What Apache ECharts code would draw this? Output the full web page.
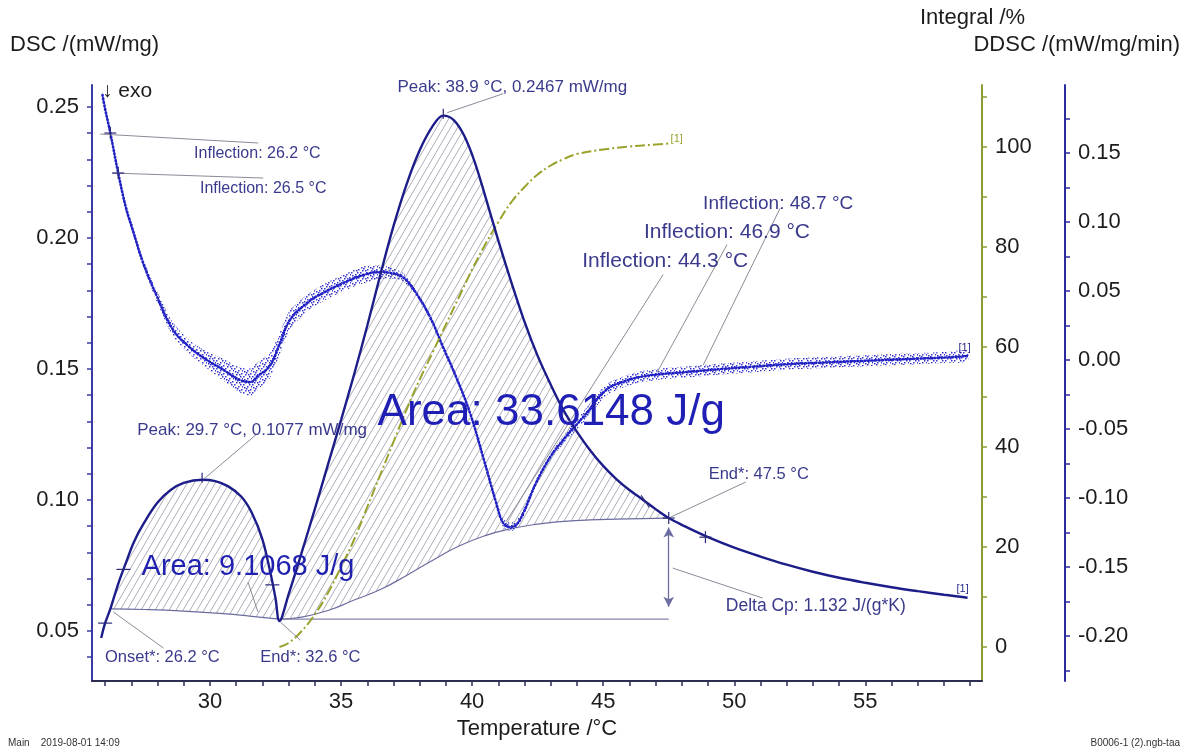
<!DOCTYPE html>
<html>
<head>
<meta charset="utf-8">
<script src="https://cdn.jsdelivr.net/npm/echarts@6/dist/echarts.min.js"></script>
<style>
  html, body { margin: 0; padding: 0; background: #fff; }
  #chart { width: 1191px; height: 751px; }
</style>
</head>
<body>
<div id="chart"></div>
<script>
// ---- DSC signal (mW/mg) against temperature (°C) ----
const dscTemp = [25.85, 26.0, 26.2, 26.5, 26.8, 27.1, 27.5, 28.0, 28.5, 29.0, 29.7, 30.2, 30.7, 31.2, 31.6, 32.0, 32.3, 32.5, 32.65,
  33.0, 33.5, 34.0, 34.5, 35.0, 35.5, 36.0, 36.5, 37.0, 37.5, 38.0, 38.5, 38.9, 39.3, 39.7, 40.1, 40.5, 41.0, 41.5, 42.0, 42.5,
  43.0, 43.5, 44.0, 44.5, 45.0, 45.5, 46.0, 46.5, 47.0, 47.5, 48.0, 49.0, 50.0, 51.0, 52.0, 53.0, 54.0, 55.0, 56.0, 57.0, 58.0, 58.9];
const dscValue = [0.0473, 0.0530, 0.0584, 0.0680, 0.0762, 0.0840, 0.0915, 0.0990, 0.1038, 0.1065, 0.1077, 0.1072, 0.1052, 0.1012, 0.0950, 0.0850, 0.0725, 0.0625, 0.0538,
  0.0640, 0.0800, 0.0965, 0.1135, 0.1305, 0.1480, 0.1665, 0.1860, 0.2045, 0.2205, 0.2335, 0.2428, 0.2467, 0.2450, 0.2390, 0.2290, 0.2160, 0.1990, 0.1830, 0.1680, 0.1550,
  0.1440, 0.1340, 0.1260, 0.1190, 0.1130, 0.1080, 0.1038, 0.1002, 0.0965, 0.0931, 0.0905, 0.0858, 0.0818, 0.0784, 0.0753, 0.0726, 0.0703, 0.0684, 0.0667, 0.0652, 0.0638, 0.0627];

// ---- Integration baselines ----
const base1Temp = [26.2, 27.5, 29.0, 30.5, 31.5, 32.65];
const base1Value = [0.0584, 0.0582, 0.0576, 0.0566, 0.0557, 0.0545];
const base2Temp = [32.65, 33.5, 34.5, 35.5, 36.5, 37.5, 38.5, 39.5, 40.5, 41.5, 42.5, 43.5, 44.5, 45.5, 46.5, 47.5];
const base2Value = [0.0545, 0.0553, 0.0578, 0.0618, 0.0658, 0.0712, 0.0770, 0.0824, 0.0864, 0.0891, 0.0908, 0.0918, 0.0924, 0.0927, 0.0929, 0.0931];
const stepLevel = 0.0545;          // extrapolated level used for Delta Cp
const stepTemp = [32.65, 47.5];

// ---- Partial integral (%) of the second peak ----
const integralTemp = [32.65, 33.0, 33.5, 34.0, 34.5, 35.0, 35.5, 36.0, 36.5, 37.0, 37.5, 38.0, 38.5, 39.0, 39.5, 40.0, 40.5, 41.0,
  41.5, 42.0, 42.5, 43.0, 43.5, 44.0, 45.0, 46.0, 47.0, 47.5];
const integralValue = [0, 0.8, 3.2, 6.5, 10.8, 16.0, 21.5, 28.0, 34.5, 41.0, 47.5, 53.5, 59.0, 64.5, 70.0, 75.5, 80.5, 85.0,
  89.0, 92.0, 94.5, 96.3, 97.6, 98.6, 99.5, 100.1, 100.5, 100.7];

// ---- DDSC (mW/mg/min): mean trace and half-width of its scatter ----
const ddscTemp = [25.9, 26.0, 26.2, 26.5, 26.8, 27.06, 27.44, 27.98, 28.59, 29.24, 29.89, 30.5, 31.15, 31.55, 31.8, 32.29, 32.67,
  33.05, 33.7, 34.31, 35.08, 35.84, 36.49, 36.9, 37.37, 37.86, 38.4, 38.89, 39.39, 39.92, 40.42, 40.92, 41.18, 41.45, 41.7,
  41.95, 42.44, 42.98, 43.47, 44.3, 45.11, 45.8, 46.41, 47.3, 48.17, 49.5, 50.6, 52.0, 53.2, 55.7, 57.0, 58.2, 58.9];
const ddscValue = [0.192, 0.182, 0.1645, 0.1355, 0.110, 0.094, 0.071, 0.046, 0.022, 0.009, 0.000, -0.007, -0.0145, -0.016, -0.012, -0.004, 0.0123,
  0.029, 0.0413, 0.0486, 0.0558, 0.0616, 0.0638, 0.0630, 0.060, 0.0486, 0.031, 0.0094, -0.0123, -0.0384, -0.0703, -0.1036, -0.118, -0.121, -0.119,
  -0.111, -0.089, -0.0703, -0.058, -0.040, -0.0217, -0.0155, -0.0123, -0.0100, -0.0087, -0.0065, -0.005, -0.003, -0.002, 0.000, 0.001, 0.002, 0.003];
const ddscSpread = [0.002, 0.002, 0.002, 0.002, 0.003, 0.003, 0.003, 0.004, 0.005, 0.005, 0.006, 0.008, 0.009, 0.010, 0.010, 0.009, 0.008,
  0.007, 0.006, 0.006, 0.006, 0.006, 0.005, 0.004, 0.003, 0.002, 0.002, 0.002, 0.002, 0.002, 0.002, 0.002, 0.003, 0.003, 0.003,
  0.003, 0.002, 0.002, 0.003, 0.004, 0.004, 0.004, 0.004, 0.004, 0.004, 0.004, 0.004, 0.004, 0.004, 0.004, 0.004, 0.004, 0.004];

// ---- Tick labels ----
const tempLabels = [30, 35, 40, 45, 50, 55];
const dscLabels = [0.05, 0.10, 0.15, 0.20, 0.25];
const integralLabels = [0, 20, 40, 60, 80, 100];
const ddscLabels = [-0.20, -0.15, -0.10, -0.05, 0.00, 0.05, 0.10, 0.15];

// minor tick positions
const range = (a, b, s) => { const r = []; for (let v = a; v <= b + s / 1e6; v += s) r.push(+v.toFixed(4)); return r; };
const tempTicks = range(26, 59, 1);
const dscTicks = range(0.04, 0.25, 0.01);
const integralTicks = range(0, 110, 10);
const ddscTicks = range(-0.225, 0.175, 0.025);

const zip = (xs, ys) => xs.map((x, i) => [x, ys[i]]);
const FONT = '"Liberation Sans", Arial, Helvetica, sans-serif';
const INK = '#3a3a8c';
const LEADER = '#8b8b98';

// diagonal hatch tile
function hatchTile() {
  const w = 7, h = 12;
  const c = document.createElement('canvas');
  c.width = w; c.height = h;
  const g = c.getContext('2d');
  g.strokeStyle = 'rgba(120,120,140,0.72)';
  g.lineWidth = 0.85;
  g.beginPath();
  for (const ox of [-w, 0, w]) { g.moveTo(ox, h); g.lineTo(ox + w, 0); }
  g.stroke();
  return c;
}
// stipple tile for the DDSC scatter band
function stippleTile() {
  const c = document.createElement('canvas');
  c.width = 9; c.height = 8;
  const g = c.getContext('2d');
  g.fillStyle = 'rgba(30,30,200,0.9)';
  [[0, 0], [4, 2], [7, 5], [2, 6], [6, 0], [1, 3], [5, 6], [8, 2], [3, 4]].forEach(([x, y]) => g.fillRect(x, y, 1.5, 1.5));
  return c;
}
const hatch = { image: hatchTile(), repeat: 'repeat' };
const stipple = { image: stippleTile(), repeat: 'repeat' };

// closed outlines between the DSC curve and each baseline
function region(t0, t1, bt, bv) {
  const top = zip(dscTemp, dscValue).filter(p => p[0] >= t0 - 1e-9 && p[0] <= t1 + 1e-9);
  const bottom = zip(bt, bv).reverse();
  return top.concat(bottom);
}
const hatchRegions = [region(26.2, 32.65, base1Temp, base1Value), region(32.65, 47.5, base2Temp, base2Value)];
const ddscBand = ddscTemp.map((t, i) => [t, ddscValue[i] + ddscSpread[i]])
  .concat(ddscTemp.map((t, i) => [t, ddscValue[i] - ddscSpread[i]]).reverse());

const axisText = { fontSize: 22, color: '#1c1c1c', fontFamily: FONT };

const chart = echarts.init(document.getElementById('chart'), null, { renderer: 'canvas' });

const option = {
  backgroundColor: '#ffffff',
  animation: false,
  grid: { left: 92, right: 209, top: 85, bottom: 70, containLabel: false, outerBoundsMode: 'none' },
  xAxis: {
    type: 'value', min: 25.5, max: 59.45,
    axisLine: { onZero: false, lineStyle: { color: '#2d2d52', width: 2 } },
    axisTick: { customValues: tempTicks, length: 5, lineStyle: { color: '#2d2d52', width: 1.5 } },
    axisLabel: Object.assign({ customValues: tempLabels, margin: 10, formatter: v => String(v) }, axisText),
    splitLine: { show: false },
    name: 'Temperature /°C', nameLocation: 'middle', nameGap: 31,
    nameTextStyle: { fontSize: 22, color: '#1c1c1c', fontFamily: FONT }
  },
  yAxis: [
    {
      type: 'value', position: 'left', min: 0.0309, max: 0.2584,
      axisLine: { show: true, onZero: false, lineStyle: { color: '#3b3ba6', width: 2 } },
      axisTick: { show: true, customValues: dscTicks, length: 5, lineStyle: { color: '#3b3ba6', width: 1.5 } },
      axisLabel: Object.assign({ customValues: dscLabels, margin: 13, formatter: v => v.toFixed(2) }, axisText),
      splitLine: { show: false }
    },
    {
      type: 'value', position: 'right', offset: 0, min: -6.8, max: 112.4,
      axisLine: { show: true, onZero: false, lineStyle: { color: '#8e9b34', width: 2 } },
      axisTick: { show: true, customValues: integralTicks, length: 5, lineStyle: { color: '#8e9b34', width: 1.5 } },
      axisLabel: Object.assign({ customValues: integralLabels, margin: 13, formatter: v => String(v) }, axisText),
      splitLine: { show: false }
    },
    {
      type: 'value', position: 'right', offset: 83, min: -0.2326, max: 0.1993,
      axisLine: { show: true, onZero: false, lineStyle: { color: '#2b2b9c', width: 2 } },
      axisTick: { show: true, customValues: ddscTicks, length: 5, lineStyle: { color: '#2b2b9c', width: 1.5 } },
      axisLabel: Object.assign({ customValues: ddscLabels, margin: 13, formatter: v => v.toFixed(2) }, axisText),
      splitLine: { show: false }
    }
  ],
  series: [
    {
      // hatched peak areas
      type: 'custom', xAxisIndex: 0, yAxisIndex: 0, silent: true, z: 1,
      data: [[30, 0.08], [40, 0.12]],
      renderItem(params, api) {
        const pts = hatchRegions[params.dataIndex].map(p => api.coord(p));
        return { type: 'polygon', shape: { points: pts }, style: { fill: hatch, stroke: null } };
      }
    },
    {
      // scatter band of the DDSC signal
      type: 'custom', xAxisIndex: 0, yAxisIndex: 2, silent: true, z: 3,
      data: [[40, 0]],
      renderItem(params, api) {
        const pts = ddscBand.map(p => api.coord(p));
        return { type: 'polygon', shape: { points: pts, smooth: 0.2 }, style: { fill: stipple, stroke: null } };
      }
    },
    {
      name: 'baseline 1', type: 'line', yAxisIndex: 0, data: zip(base1Temp, base1Value), smooth: true,
      showSymbol: false, silent: true, z: 2, lineStyle: { color: '#6c6ca0', width: 1.2 }
    },
    {
      name: 'baseline 2', type: 'line', yAxisIndex: 0, data: zip(base2Temp, base2Value), smooth: true,
      showSymbol: false, silent: true, z: 2, lineStyle: { color: '#6c6ca0', width: 1.2 }
    },
    {
      name: 'step level', type: 'line', yAxisIndex: 0, data: stepTemp.map(t => [t, stepLevel]),
      showSymbol: false, silent: true, z: 2, lineStyle: { color: '#8585ad', width: 1.2 },
      markLine: {
        silent: true, symbol: ['arrow', 'arrow'], symbolSize: [8, 10],
        lineStyle: { color: '#6c6ca0', width: 1.3, type: 'solid' }, label: { show: false },
        data: [[{ coord: [47.5, 0.0895] }, { coord: [47.5, 0.0592] }]]
      }
    },
    {
      name: 'DDSC', type: 'line', yAxisIndex: 2, data: zip(ddscTemp, ddscValue), smooth: 0.4,
      showSymbol: false, silent: true, z: 3,
      lineStyle: { color: '#2222c4', width: 2.6, type: [1, 2.5], cap: 'round' }
    },
    {
      name: 'Integral', type: 'line', yAxisIndex: 1, data: zip(integralTemp, integralValue), smooth: 0.4,
      showSymbol: false, silent: true, z: 4,
      lineStyle: { color: '#9aa22b', width: 2, type: [10, 3, 2, 3] }
    },
    {
      name: 'DSC', type: 'line', yAxisIndex: 0, data: zip(dscTemp, dscValue), smooth: 0.35,
      showSymbol: false, silent: true, z: 5,
      lineStyle: { color: '#1d1d8a', width: 2.4 }
    }
  ]
};
chart.setOption(option);

// ---- annotations placed from data points ----
const px = (t, v, axis) => chart.convertToPixel({ xAxisIndex: 0, yAxisIndex: axis }, [t, v]);

// at: [T, value, yAxisIndex]; from/to: leader offsets; pos: label centre offset
const notes = [
  { at: [26.2, 0.1645, 2], from: [-10, 1], to: [148, 10], label: 'Inflection: 26.2 °C', pos: [147, 21], size: 16, mark: 'cross' },
  { at: [26.5, 0.1355, 2], from: [-6, 0], to: [145, 5], label: 'Inflection: 26.5 °C', pos: [145, 16], size: 16, mark: 'cross' },
  { at: [38.9, 0.2467, 0], from: [4, -3], to: [60, -22], label: 'Peak: 38.9 °C, 0.2467 mW/mg', pos: [69, -28], size: 17, mark: 'vtick' },
  { at: [29.7, 0.1077, 0], from: [2, -1], to: [55, -46], label: 'Peak: 29.7 °C, 0.1077 mW/mg', pos: [50, -49], size: 17, mark: 'vtick' },
  { at: [26.2, 0.0584, 0], from: [3, 3], to: [53, 39], label: 'Onset*: 26.2 °C', pos: [52, 48], size: 16.5 },
  { at: [32.65, 0.0545, 0], from: [1, 3], to: [21, 21], label: 'End*: 32.6 °C', pos: [31, 38], size: 16.5 },
  { at: [47.5, 0.0931, 0], from: [0, 0], to: [77, -36], label: 'End*: 47.5 °C', pos: [90, -44], size: 16.5, mark: 'cross' },
  { at: [47.5, 0.0740, 0], from: [4, 0], to: [94, 30], label: 'Delta Cp: 1.132 J/(g*K)', pos: [147, 38], size: 17.5 },
  { at: [48.7, -0.008, 2], from: [3, -6], to: [80, -163], label: 'Inflection: 48.7 °C', pos: [78, -167], size: 19 },
  { at: [46.9, -0.012, 2], from: [4, -4], to: [74, -132], label: 'Inflection: 46.9 °C', pos: [74, -144], size: 21 },
  { at: [41.3, -0.117, 2], from: [0, 0], to: [157, -247], label: 'Inflection: 44.3 °C', pos: [159, -260], size: 21 },
  { at: [31.45, 0.0744, 0], from: [0, 15], to: [10, 45], label: 'Area: 9.1068 J/g', pos: [0, 0], size: 29, color: '#1f1fb0' },
  { at: [43.02, 0.1332, 0], label: 'Area: 33.6148 J/g', pos: [0, 0], size: 44, color: '#1f1fb5' }
];

// extra limit marks on the DSC curve
const ticks = [
  { at: [26.0, 0.0530, 0], mark: 'dash' },
  { at: [26.7, 0.0735, 0], mark: 'dash' },
  { at: [32.38, 0.0676, 0], mark: 'dash' },
  { at: [46.6, 0.0995, 0], mark: 'slash' },
  { at: [48.9, 0.0858, 0], mark: 'cross' }
];

function markShapes(x, y, kind) {
  const s = { stroke: '#2a2a7a', lineWidth: 1.2 };
  const L = (x1, y1, x2, y2) => ({ type: 'line', silent: true, z: 10, shape: { x1, y1, x2, y2 }, style: s });
  if (kind === 'cross') return [L(x - 6, y, x + 6, y), L(x, y - 6, x, y + 6)];
  if (kind === 'vtick') return [L(x, y - 7, x, y + 3)];
  if (kind === 'dash') return [L(x - 7, y, x + 7, y)];
  if (kind === 'slash') return [L(x - 4, y - 6, x + 4, y + 6)];
  return [];
}

const graphics = [];
notes.forEach(n => {
  const [x, y] = px(n.at[0], n.at[1], n.at[2]);
  if (n.to) {
    graphics.push({
      type: 'line', silent: true, z: 9,
      shape: { x1: x + n.from[0], y1: y + n.from[1], x2: x + n.to[0], y2: y + n.to[1] },
      style: { stroke: LEADER, lineWidth: 1 }
    });
  }
  if (n.mark) graphics.push(...markShapes(x, y, n.mark));
  graphics.push({
    type: 'text', silent: true, z: 11, x: x + n.pos[0], y: y + n.pos[1],
    style: {
      text: n.label, fill: n.color || INK, font: `${n.size}px ${FONT}`,
      align: 'center', verticalAlign: 'middle', textAlign: 'center', textVerticalAlign: 'middle'
    }
  });
});
ticks.forEach(t => {
  const [x, y] = px(t.at[0], t.at[1], t.at[2]);
  graphics.push(...markShapes(x, y, t.mark));
});

// curve end tags
const endTags = [
  { at: [dscTemp[dscTemp.length - 1], dscValue[dscValue.length - 1], 0], off: [-5, -9], color: '#2a2a8a' },
  { at: [ddscTemp[ddscTemp.length - 1], ddscValue[ddscValue.length - 1], 2], off: [-3, -8], color: '#2a2a8a' },
  { at: [integralTemp[integralTemp.length - 1], integralValue[integralValue.length - 1], 1], off: [8, -5], color: '#9aa22b' }
];
endTags.forEach(e => {
  const [x, y] = px(e.at[0], e.at[1], e.at[2]);
  graphics.push({
    type: 'text', silent: true, z: 11, x: x + e.off[0], y: y + e.off[1],
    style: { text: '[1]', fill: e.color, font: `11px ${FONT}`, align: 'center', verticalAlign: 'middle', textAlign: 'center', textVerticalAlign: 'middle' }
  });
});

// titles and footer
const plain = (text, x, y, size, align, color) => ({
  type: 'text', silent: true, z: 11, x, y,
  style: { text, fill: color || '#1c1c1c', font: `${size}px ${FONT}`, align, verticalAlign: 'middle', textAlign: align, textVerticalAlign: 'middle' }
});
graphics.push(
  plain('DSC /(mW/mg)', 10, 45, 22, 'left'),
  plain('Integral /%', 920, 18, 22, 'left'),
  plain('DDSC /(mW/mg/min)', 1180, 45, 22, 'right'),
  plain('↓ exo', 102, 91, 21, 'left'),
  plain('Main    2019-08-01 14:09', 8, 743, 10, 'left', '#333'),
  plain('B0006-1 (2).ngb-taa', 1180, 743, 10, 'right', '#333')
);

chart.setOption({ graphic: graphics });
</script>
</body>
</html>
